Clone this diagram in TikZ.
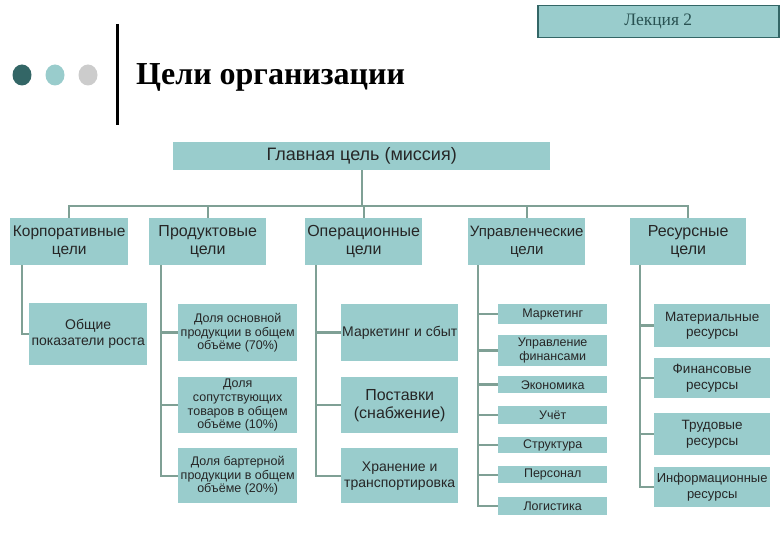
\documentclass[tikz,border=0pt]{standalone}
\usepackage{fontspec}
\setmainfont{Liberation Sans}
\newfontfamily\serifrm{Liberation Serif}
\definecolor{boxc}{HTML}{99CCCC}
\definecolor{darkt}{HTML}{336666}
\definecolor{dotg}{HTML}{CCCCCC}
\definecolor{connc}{HTML}{7FA095}
\begin{document}
\begin{tikzpicture}[x=1pt,y=-1pt,
  box/.style={fill=boxc,draw=none,text=black!85,align=center,inner sep=1pt,anchor=north west},
  conn/.style={draw=connc,line width=2.4pt},
  fA/.style={font=\fontsize{16}{18}\selectfont},
  fB/.style={font=\fontsize{12.5}{13.8}\selectfont},
  fC/.style={font=\fontsize{13.5}{15.5}\selectfont},
  fD/.style={font=\fontsize{12.5}{14}\selectfont}]
\useasboundingbox (0,0) rectangle (780,540);
% header
\node[box,draw=darkt,line width=1.5pt,minimum width=241pt,minimum height=32pt,text=darkt!80!black,font=\serifrm\fontsize{17.5}{19}\selectfont] (lect) at (537,5) {Лекция 2};
\fill[darkt] (22,75) ellipse (9.5 and 10.5);
\fill[boxc] (55,75) ellipse (9.5 and 10.5);
\fill[dotg] (88,75) ellipse (9.5 and 10.5);
\draw[line width=3pt] (117,24) -- (117,125);
\node[anchor=west,inner sep=0,font=\serifrm\bfseries\fontsize{32}{36}\selectfont] (title) at (136,77) {Цели организации};
% main
\node[box,font=\fontsize{18}{20}\selectfont,minimum width=377pt,minimum height=28pt] (main) at (173,142) {Главная цель (миссия)};
% level 2
\node[box,fA,font=\fontsize{15.5}{18}\selectfont,minimum width=118pt,minimum height=47pt,text width=116pt] (c1) at (10,218) {Корпоративные\\цели};
\node[box,fA,minimum width=117pt,minimum height=47pt,text width=115pt] (c2) at (149,218) {Продуктовые\\цели};
\node[box,fA,minimum width=117pt,minimum height=47pt,text width=115pt] (c3) at (305,218) {Операционные\\цели};
\node[box,font=\fontsize{15}{18}\selectfont,minimum width=117pt,minimum height=47pt,text width=115pt] (c4) at (468,218) {Управленческие\\цели};
\node[box,fA,minimum width=116pt,minimum height=47pt,text width=114pt] (c5) at (630,218) {Ресурсные\\цели};
% children
\node[box,font=\fontsize{14}{16}\selectfont,minimum width=118pt,minimum height=62pt] (k1) at (29,303) {Общие\\показатели роста};
\node[box,fB,minimum width=119pt,minimum height=57pt] (p1) at (178,304) {Доля основной\\продукции в общем\\объёме (70\%)};
\node[box,fB,minimum width=119pt,minimum height=56pt] (p2) at (178,377) {Доля\\сопутствующих\\товаров в общем\\объёме (10\%)};
\node[box,fB,minimum width=119pt,minimum height=55pt] (p3) at (178,448) {Доля бартерной\\продукции в общем\\объёме (20\%)};
\node[box,font=\fontsize{14}{16}\selectfont,minimum width=117pt,minimum height=57pt] (o1) at (341,304) {Маркетинг и сбыт};
\node[box,font=\fontsize{16}{18}\selectfont,minimum width=117pt,minimum height=56pt] (o2) at (341,377) {Поставки\\(снабжение)};
\node[box,font=\fontsize{14}{16}\selectfont,minimum width=117pt,minimum height=55pt] (o3) at (341,448) {Хранение и\\транспортировка};
\node[box,fD,minimum width=109pt,minimum height=20pt] (u1) at (498,304) {Маркетинг};
\node[box,fD,minimum width=109pt,minimum height=31pt] (u2) at (498,335) {Управление\\финансами};
\node[box,fD,minimum width=109pt,minimum height=17pt] (u3) at (498,376) {Экономика};
\node[box,fD,minimum width=109pt,minimum height=18pt] (u4) at (498,406) {Учёт};
\node[box,fD,minimum width=109pt,minimum height=16pt] (u5) at (498,437) {Структура};
\node[box,fD,minimum width=109pt,minimum height=17pt] (u6) at (498,466) {Персонал};
\node[box,fD,minimum width=109pt,minimum height=18pt] (u7) at (498,497) {Логистика};
\node[box,fC,minimum width=116pt,minimum height=43pt] (r1) at (654,304) {Материальные\\ресурсы};
\node[box,fC,minimum width=116pt,minimum height=40pt] (r2) at (654,358) {Финансовые\\ресурсы};
\node[box,fC,minimum width=116pt,minimum height=42pt] (r3) at (654,413) {Трудовые\\ресурсы};
\node[box,fC,font=\fontsize{13}{15.5}\selectfont,minimum width=116pt,minimum height=40pt] (r4) at (654,467) {Информационные\\ресурсы};
% bus
\coordinate (bus) at (0,206);
\draw[conn] (main.south) -- (main.south |- bus);
\draw[conn] (c1.north) -- (c1.north |- bus) -- (c5.north |- bus) -- (c5.north);
\draw[conn] (c2.north |- bus) -- (c2.north);
\draw[conn] (c3.north |- bus) -- (c3.north);
\draw[conn] (c4.north |- bus) -- (c4.north);
% verticals
\coordinate (v1) at ([xshift=12pt]c1.south west);
\coordinate (v2) at ([xshift=12pt]c2.south west);
\coordinate (v3) at ([xshift=11pt]c3.south west);
\coordinate (v4) at ([xshift=10pt]c4.south west);
\coordinate (v5) at ([xshift=10pt]c5.south west);
\draw[conn] (v1) |- (k1.west);
\draw[conn] (v2) |- (p3.west);
\draw[conn] (v2 |- p1.west) -- (p1.west);
\draw[conn] (v2 |- p2.west) -- (p2.west);
\draw[conn] (v3) |- (o3.west);
\draw[conn] (v3 |- o1.west) -- (o1.west);
\draw[conn] (v3 |- o2.west) -- (o2.west);
\draw[conn] (v4) |- (u7.west);
\foreach \n in {u1,u2,u3,u4,u5,u6} \draw[conn] (v4 |- \n.west) -- (\n.west);
\draw[conn] (v5) |- (r4.west);
\foreach \n in {r1,r2,r3} \draw[conn] (v5 |- \n.west) -- (\n.west);
\end{tikzpicture}
\end{document}
